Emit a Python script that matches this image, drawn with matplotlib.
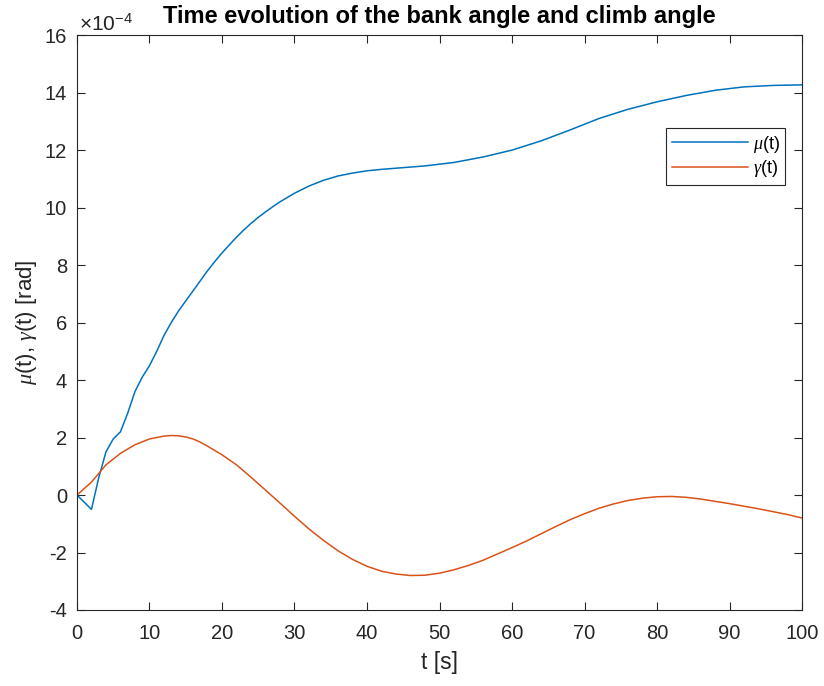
import numpy as np
import matplotlib.pyplot as plt

plt.rcParams['font.family'] = ['Liberation Sans', 'DejaVu Sans']
plt.rcParams['mathtext.fontset'] = 'custom'
plt.rcParams['mathtext.rm'] = 'Liberation Sans'
plt.rcParams['mathtext.it'] = 'Liberation Serif:italic'
plt.rcParams['axes.unicode_minus'] = False

# bank angle mu(t), in units of 1e-4 rad
t_mu = [0, 2, 3, 4, 5, 6, 7, 8, 9, 10, 11, 12, 13, 14, 15, 16, 17, 18, 19, 20,
        21, 22, 23, 24, 25, 26, 27, 28, 30, 32, 34, 36, 38, 40, 42, 44, 48, 52,
        56, 60, 64, 68, 72, 76, 80, 84, 88, 92, 96, 100]
mu = [0, -0.5, 0.6, 1.5, 1.95, 2.2, 2.85, 3.6, 4.1, 4.5, 5.0, 5.55, 6.0, 6.4,
      6.75, 7.1, 7.45, 7.8, 8.12, 8.42, 8.7, 8.97, 9.22, 9.45, 9.66, 9.85,
      10.03, 10.2, 10.5, 10.75, 10.95, 11.1, 11.2, 11.28, 11.33, 11.37, 11.45,
      11.57, 11.76, 12.0, 12.32, 12.7, 13.1, 13.42, 13.68, 13.9, 14.08, 14.2,
      14.25, 14.27]

# climb angle gamma(t), in units of 1e-4 rad
t_gam = [0, 2, 4, 6, 8, 10, 12, 13, 14, 15, 16, 17, 18, 20, 22, 24, 26, 28, 30,
         32, 34, 36, 38, 40, 42, 44, 46, 48, 50, 52, 54, 56, 58, 60, 62, 64, 66,
         68, 70, 72, 74, 76, 78, 80, 82, 84, 86, 88, 90, 92, 94, 96, 98, 100]
gam = [0, 0.45, 1.05, 1.45, 1.75, 1.95, 2.05, 2.07, 2.06, 2.02, 1.95, 1.84,
       1.7, 1.4, 1.05, 0.62, 0.17, -0.28, -0.74, -1.18, -1.58, -1.94, -2.24,
       -2.48, -2.65, -2.75, -2.8, -2.79, -2.72, -2.6, -2.45, -2.27, -2.05,
       -1.83, -1.6, -1.35, -1.1, -0.86, -0.65, -0.46, -0.31, -0.19, -0.11,
       -0.06, -0.05, -0.08, -0.14, -0.22, -0.3, -0.39, -0.48, -0.58, -0.68,
       -0.8]

ink = '#262626'
fig = plt.figure(figsize=(8.24, 6.86), dpi=100)
ax = fig.add_axes([0.0934, 0.1108, 0.88, 0.838])

ax.plot(t_mu, mu, color='#0072BD', lw=1.1, label=r'$\mu$(t)')
ax.plot(t_gam, gam, color='#D95319', lw=1.1, label=r'$\gamma$(t)')

ax.set_xlim(0, 100)
ax.set_ylim(-4, 16)
ax.set_xticks(np.arange(0, 101, 10))
ax.set_yticks(np.arange(-4, 17, 2))
ax.tick_params(direction='in', top=True, right=True, length=6, width=0.8,
               labelsize=14.5, colors=ink)
ax.tick_params(axis='x', pad=10)
ax.tick_params(axis='y', pad=7)
for s in ax.spines.values():
    s.set_color(ink)
    s.set_linewidth(0.8)

ax.text(0.003, 1.0, r'$\times$10$^{-4}$', transform=ax.transAxes,
        fontsize=15, color=ink, ha='left', va='bottom')
ax.set_title('Time evolution of the bank angle and climb angle',
             fontsize=17, fontweight='bold', color='black', pad=9)
ax.set_xlabel('t [s]', fontsize=16.5, color=ink, labelpad=6)
ax.set_ylabel(r'$\mu$(t), $\gamma$(t) [rad]', fontsize=16, color=ink)

leg = ax.legend(loc='upper right', bbox_to_anchor=(0.977, 0.838), fontsize=13,
                handlelength=4.2, fancybox=False, framealpha=1,
                edgecolor=ink, borderpad=0.3, labelspacing=0.2,
                handletextpad=0.3, borderaxespad=0)
leg.get_frame().set_linewidth(0.8)

fig.savefig('out.png', dpi=100)
